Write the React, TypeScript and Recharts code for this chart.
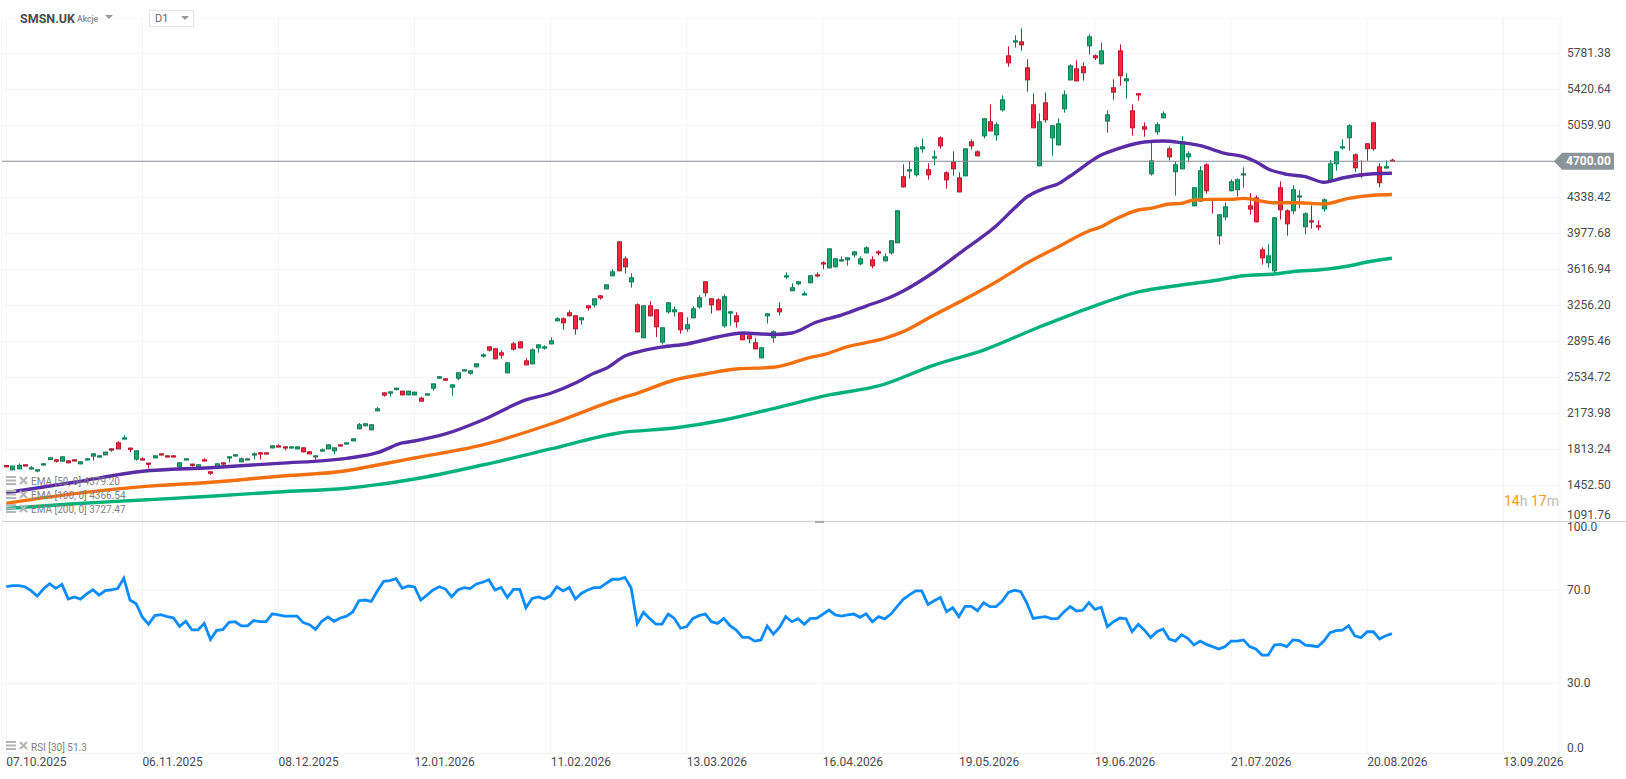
import React from "react";
import { ComposedChart, Bar, Line, XAxis, YAxis, CartesianGrid, ReferenceLine } from "recharts";

const FONT = "Roboto, sans-serif";

// open, high, low, close
const candles: number[][] = [
[1656,1656,1633,1633],[1603,1650,1603,1650],[1613,1673,1613,1656],[1663,1663,1643,1643],[1613,1646,1613,1633],
[1593,1613,1583,1613],[1653,1673,1653,1673],[1706,1733,1706,1733],[1713,1713,1680,1690],[1690,1743,1690,1743],
[1703,1703,1673,1673],[1713,1713,1693,1693],[1663,1693,1663,1693],[1703,1723,1703,1723],[1740,1773,1700,1773],
[1733,1753,1733,1753],[1753,1790,1753,1790],[1823,1823,1790,1800],[1883,1893,1813,1813],[1913,1954,1913,1933],
[1830,1830,1783,1813],[1710,1803,1700,1803],[1723,1733,1703,1703],[1680,1680,1620,1660],[1723,1753,1723,1753],
[1773,1773,1753,1753],[1753,1753,1733,1733],[1753,1753,1733,1733],[1633,1683,1623,1683],[1703,1723,1703,1723],
[1670,1670,1640,1650],[1633,1663,1633,1663],[1713,1723,1693,1693],[1593,1593,1556,1569],[1633,1673,1633,1673],
[1683,1683,1633,1660],[1723,1743,1683,1743],[1743,1763,1743,1763],[1683,1733,1683,1723],[1703,1723,1703,1723],
[1753,1783,1713,1773],[1783,1783,1713,1763],[1783,1783,1763,1763],[1823,1853,1823,1853],[1853,1863,1833,1833],
[1843,1843,1803,1823],[1823,1843,1823,1843],[1813,1843,1813,1843],[1833,1833,1783,1783],[1793,1793,1763,1763],
[1733,1753,1706,1753],[1793,1823,1793,1813],[1813,1863,1813,1863],[1793,1833,1763,1833],[1863,1863,1843,1843],
[1863,1883,1863,1883],[1893,1923,1893,1923],[2014,2077,2014,2064],[2044,2074,2044,2074],[2004,2064,2004,2064],
[2194,2237,2194,2224],[2384,2384,2341,2351],[2371,2394,2341,2394],[2411,2431,2401,2431],[2401,2401,2354,2354],
[2354,2401,2354,2401],[2354,2391,2354,2391],[2331,2341,2291,2291],[2354,2374,2354,2374],[2421,2474,2401,2474],
[2521,2545,2521,2545],[2525,2525,2501,2501],[2431,2464,2351,2464],[2521,2585,2508,2585],[2595,2615,2595,2615],
[2571,2605,2561,2605],[2635,2675,2635,2675],[2742,2775,2732,2765],[2845,2845,2792,2802],[2825,2825,2715,2715],
[2785,2805,2722,2752],[2575,2685,2575,2685],[2875,2889,2802,2812],[2895,2895,2825,2825],[2705,2725,2655,2655],
[2665,2825,2665,2815],[2825,2865,2782,2865],[2825,2855,2812,2845],[2865,2935,2865,2905],[3096,3136,3096,3126],
[3126,3136,3012,3076],[3186,3206,3146,3146],[3156,3156,2962,3016],[3106,3136,3062,3136],[3256,3256,3203,3226],
[3256,3326,3236,3326],[3356,3356,3313,3326],[3416,3466,3416,3466],[3547,3617,3547,3597],[3897,3897,3597,3597],
[3727,3747,3573,3637],[3486,3577,3433,3537],[3266,3276,2986,2986],[2926,3256,2926,3256],[3256,3296,3146,3146],
[3216,3216,2939,3036],[2882,3036,2862,3036],[3186,3286,3173,3286],[3186,3246,3143,3216],[3186,3186,2972,3006],
[3016,3136,2992,3066],[3126,3246,3126,3226],[3236,3357,3223,3337],[3497,3497,3343,3377],[3327,3327,3173,3256],
[3316,3327,3206,3206],[3046,3367,3033,3347],[3176,3196,3053,3196],[3156,3186,3033,3086],[2982,2982,2906,2906],
[2956,2956,2876,2916],[2886,2926,2815,2815],[2725,2836,2725,2836],[3146,3176,3073,3176],[2926,3006,2882,2996],
[3226,3286,3156,3186],[3537,3587,3517,3557],[3397,3477,3397,3437],[3467,3497,3457,3497],[3357,3397,3357,3377],
[3477,3557,3477,3557],[3567,3587,3537,3547],[3687,3697,3617,3667],[3627,3827,3627,3827],[3637,3727,3637,3727],
[3697,3747,3697,3717],[3707,3737,3654,3737],[3757,3797,3737,3797],[3667,3747,3657,3727],[3777,3847,3777,3837],
[3717,3747,3627,3647],[3797,3807,3757,3777],[3697,3777,3697,3747],[3777,3908,3764,3908],[3878,4208,3878,4208],
[4549,4669,4438,4438],[4599,4699,4525,4619],[4559,4849,4545,4839],[4819,4929,4786,4849],[4619,4679,4515,4559],
[4729,4809,4659,4749],[4939,4949,4826,4849],[4589,4599,4425,4508],[4699,4799,4555,4619],[4538,4589,4388,4388],
[4549,4829,4549,4829],[4899,4919,4816,4849],[4799,4809,4749,4749],[4949,5130,4929,5130],[5100,5270,4999,4999],
[4959,5090,4906,5070],[5210,5360,5197,5320],[5761,5851,5647,5681],[5891,5961,5838,5911],[5901,6031,5808,5861],
[5641,5721,5397,5510],[5270,5380,5030,5030],[4649,5180,4649,5100],[5290,5390,5086,5110],[4929,5060,4756,5060],
[4859,5130,4859,5080],[5220,5410,5186,5370],[5510,5671,5510,5661],[5631,5711,5500,5500],[5651,5691,5507,5581],
[5851,5971,5768,5951],[5761,5771,5714,5731],[5671,5891,5671,5811],[5097,5210,4986,5170],[5441,5521,5317,5387],
[5811,5871,5457,5551],[5501,5581,5327,5531],[5210,5270,4956,5030],[5381,5381,5307,5360],[5050,5090,4946,5016],
[4569,4910,4556,4709],[4990,5090,4966,5070],[5130,5200,5130,5180],[4829,4849,4709,4739],[4589,4699,4355,4669],
[4619,4950,4619,4900],[4739,4799,4689,4779],[4248,4439,4248,4439],[4295,4649,4295,4609],[4669,4679,4375,4399],
[4328,4328,4175,4318],[3948,4168,3864,4168],[4138,4288,4108,4248],[4399,4519,4399,4499],[4409,4529,4345,4519],
[4559,4639,4435,4579],[4258,4379,4165,4215],[4338,4358,4088,4088],[3817,3837,3664,3727],[3677,3867,3634,3757],
[3597,4138,3577,4138],[4439,4499,4115,4208],[4208,4218,3954,4068],[4198,4459,4168,4419],[4338,4409,4228,4358],
[4038,4188,3968,4178],[4108,4258,4024,4088],[4058,4108,4008,4038],[4218,4328,4194,4318],[4505,4712,4492,4679],
[4669,4799,4605,4799],[4829,4920,4816,4850],[4930,5070,4805,5060],[4769,4779,4595,4629],[4559,4709,4529,4579],
[4880,4880,4705,4820],[5090,5090,4805,4820],[4649,4679,4439,4479],[4629,4709,4629,4649],[4715,4725,4700,4700],
];

// [candle index, value]
const ema50: number[][] = [
[0,1379],[11,1483],[22,1593],[33,1629],[44,1673],[55,1723],[60,1779],[64,1877],[66,1897],[71,1967],[77,2107],[84,2308],
[88,2375],[92,2478],[95,2575],[97,2625],[100,2748],[102,2788],[106,2838],[110,2869],[115,2939],[119,2979],[124,2964],
[127,2979],[131,3089],[135,3159],[139,3249],[143,3340],[145,3400],[150,3590],[155,3820],[160,4051],[163,4231],[165,4342],
[168,4432],[170,4472],[172,4552],[177,4762],[180,4832],[184,4893],[187,4903],[190,4886],[193,4856],[197,4779],[200,4745],
[202,4695],[204,4622],[207,4569],[210,4545],[213,4489],[216,4532],[218,4555],[221,4575],[224,4579.2],
];
const ema100: number[][] = [
[0,1272],[11,1369],[22,1439],[33,1483],[44,1543],[55,1599],[60,1656],[64,1703],[66,1726],[77,1857],[88,2067],[99,2318],
[102,2375],[108,2508],[113,2568],[118,2618],[124,2635],[127,2678],[129,2718],[133,2778],[136,2842],[139,2882],[142,2926],
[145,2992],[150,3159],[155,3319],[160,3490],[165,3680],[170,3841],[175,4001],[177,4044],[179,4111],[181,4168],[183,4211],
[185,4228],[188,4271],[190,4278],[192,4311],[195,4318],[198,4318],[200,4328],[205,4284],[209,4284],[213,4271],[217,4328],
[221,4359],[224,4366.54],
];
const ema200: number[][] = [
[0,1220],[11,1268],[22,1305],[33,1343],[44,1386],[55,1423],[60,1459],[64,1496],[66,1516],[77,1656],[88,1817],[99,1977],
[108,2027],[116,2107],[125,2237],[133,2358],[141,2448],[150,2658],[158,2808],[167,3039],[175,3229],[183,3390],[190,3460],
[196,3510],[200,3553],[205,3570],[209,3600],[212,3610],[217,3650],[220,3690],[224,3727.47],
];

const rsi: number[] = [
71.4,71.9,71.9,71.4,69.7,67.4,70.4,72.7,70.7,72.4,66.1,67.0,66.1,68.3,70.1,67.8,69.7,70.1,70.6,75.0,
65.7,64.1,58.3,55.3,59.0,59.4,58.6,58.1,54.4,56.6,52.9,52.9,55.7,48.8,52.7,53.0,56.1,56.4,54.6,54.6,
56.9,56.4,56.4,59.8,59.3,58.8,58.8,58.8,56.0,55.1,53.1,56.6,58.4,56.6,58.0,58.8,60.6,65.4,65.7,65.1,
69.7,73.7,74.0,74.9,70.7,71.7,71.3,65.7,67.8,70.0,71.4,70.4,
67.1,70.0,71.0,70.6,72.6,73.3,74.4,70.0,71.1,66.8,70.3,70.3,62.4,66.4,67.0,66.1,67.6,71.4,69.6,71.1,
66.1,68.6,70.0,71.0,71.0,72.9,74.6,74.6,75.4,71.0,55.6,60.4,57.8,55.4,55.4,59.7,57.8,53.6,54.3,57.8,
59.0,59.7,56.4,55.7,57.8,54.7,52.8,49.7,49.7,48.1,48.6,54.6,51.1,54.0,58.6,56.4,57.7,55.3,57.8,57.8,
59.6,61.4,59.3,58.8,59.3,59.7,58.3,59.8,56.4,58.6,57.6,59.7,62.9,66.0,67.9,69.6,69.6,63.8,65.4,66.8,
60.7,62.4,58.6,63.0,63.0,61.1,64.6,62.9,62.9,65.3,69.0,69.9,69.3,64.3,57.8,58.3,58.6,57.6,57.8,60.7,
62.9,61.0,61.3,64.6,61.7,62.6,54.3,56.4,58.0,57.7,52.1,55.3,52.8,49.6,52.1,53.3,49.0,48.1,50.8,49.3,
46.4,48.1,46.7,45.7,44.7,45.7,48.1,48.1,48.6,45.7,44.7,42.1,42.1,46.4,46.7,45.7,48.6,48.3,46.4,46.1,
45.7,48.1,51.7,52.6,52.8,54.7,50.4,49.6,52.1,52.1,49.0,50.4,51.3,
];

const dateLabels = ["07.10.2025","06.11.2025","08.12.2025","12.01.2026","11.02.2026","13.03.2026","16.04.2026","19.05.2026","19.06.2026","21.07.2026","20.08.2026","13.09.2026"];
const dateTicks = [0,22,44,66,88,110,132,154,176,198,220,242];
const priceTicks = [1091.76,1452.50,1813.24,2173.98,2534.72,2895.46,3256.20,3616.94,3977.68,4338.42,5059.90,5420.64,5781.38];
const rsiTicks = [0,30,70,100];
const lastPrice = 4700;

const lookup = (list: number[][], i: number) => {
  const hit = list.find((p) => p[0] === i);
  return hit ? hit[1] : null;
};

const priceRows = candles.map((c, i) => ({
  i, open: c[0], high: c[1], low: c[2], close: c[3],
  ema50: lookup(ema50, i), ema100: lookup(ema100, i), ema200: lookup(ema200, i),
}));
const rsiRows = rsi.map((v, i) => ({ i, rsi: v }));

const Candle = (props: any) => {
  const { x, y, width, height, payload } = props;
  const { open, high, low, close } = payload;
  const k = height / (high - low);
  const at = (v: number) => y + (high - v) * k;
  const up = close >= open;
  const cx = Math.floor(x + width / 2) + 0.5;
  const top = at(Math.max(open, close));
  const bot = at(Math.min(open, close));
  const edge = up ? "#0e7d55" : "#b8172e";
  return (
    <g>
      <line x1={cx} x2={cx} y1={y} y2={y + height} stroke={edge} strokeWidth={1} />
      <rect x={cx - 2} width={4} y={top + 0.5} height={Math.max(bot - top - 1, 1.2)} fill={up ? "#1ca56d" : "#f8253f"} stroke={edge} strokeWidth={1} />
    </g>
  );
};

const labelStyle = { fontFamily: FONT, fontSize: 12, fill: "#474d50" };

const PriceTick = (props: any) => {
  const { y, payload } = props;
  const shift = payload.value === 1091.76 ? -6 : 0;
  return <text x={1567} y={y + shift} dominantBaseline="central" textAnchor="start" {...labelStyle}>{payload.value.toFixed(2)}</text>;
};
const RsiTick = (props: any) => {
  const { y, payload } = props;
  const shift = payload.value === 100 ? 7 : payload.value === 0 ? -5 : 0;
  return <text x={1567} y={y + shift} dominantBaseline="central" textAnchor="start" {...labelStyle}>{payload.value.toFixed(1)}</text>;
};
const DateTick = (props: any) => {
  const { x, index } = props;
  return <text x={x} y={241.7} dominantBaseline="central" textAnchor="start" {...labelStyle}>{dateLabels[index]}</text>;
};

const PriceTag = (props: any) => {
  const vb = props.viewBox;
  const right = vb.x + vb.width;
  const cy = vb.y;
  return (
    <g>
      <polygon points={`${right - 6},${cy} ${right + 2},${cy - 8.5} ${right + 54},${cy - 8.5} ${right + 54},${cy + 8.5} ${right + 2},${cy + 8.5}`} fill="#8b9599" />
      <text x={right + 6} y={cy} dominantBaseline="central" textAnchor="start" fontFamily={FONT} fontSize={12} fontWeight={700} fill="#fff">{lastPrice.toFixed(2)}</text>
    </g>
  );
};

const Icons = ({ top }: { top: number }) => (
  <svg width={26} height={12} style={{ position: "absolute", left: 5, top }}>
    <rect x={1} y={1} width={10} height={2} fill="#b5b5b5" />
    <rect x={1} y={4.5} width={10} height={2} fill="#b5b5b5" />
    <rect x={1} y={8} width={10} height={2} fill="#b5b5b5" />
    <path d="M15 2 L22 9 M22 2 L15 9" stroke="#b5b5b5" strokeWidth={2.2} />
  </svg>
);

const legendText = (top: number, text: string) => (
  <div style={{ position: "absolute", left: 31, top, fontFamily: FONT, fontSize: 10, lineHeight: "12px", color: "#808080", whiteSpace: "nowrap" }}>{text}</div>
);

const tri = (left: number, top: number) => (
  <svg width={10} height={6} style={{ position: "absolute", left, top }}>
    <polygon points="0,0 8,0 4,4" fill="#999" />
  </svg>
);

export default function App() {
  return (
    <div style={{ position: "absolute", left: 0, top: 0, width: 1626, height: 779, background: "#fff", overflow: "hidden" }}>
      <div style={{ position: "absolute", left: 0, top: 18 }}>
        <ComposedChart width={1626} height={504} data={priceRows} margin={{ top: 0, right: 0, bottom: 0.67, left: 2 }}>
          <CartesianGrid stroke="#f3f3f3" strokeWidth={1} />
          <XAxis dataKey="i" type="number" domain={[-0.695, 251.17]} ticks={dateTicks} hide allowDataOverflow />
          <YAxis type="number" orientation="right" width={66} domain={[1091.76, 6135.1]} ticks={priceTicks} interval={0} tick={PriceTick} tickLine={false} axisLine={false} tickMargin={0} allowDataOverflow />
          <ReferenceLine y={lastPrice} stroke="#7f8c92" strokeWidth={1.1} label={PriceTag} />
          <Bar dataKey={(d: any) => [d.low, d.high]} barSize={5} shape={Candle} isAnimationActive={false} />
          <Line dataKey="ema200" type="monotone" stroke="#00b27a" strokeWidth={3.4} dot={false} connectNulls isAnimationActive={false} />
          <Line dataKey="ema100" type="monotone" stroke="#f4700f" strokeWidth={3.4} dot={false} connectNulls isAnimationActive={false} />
          <Line dataKey="ema50" type="monotone" stroke="#5a2ca6" strokeWidth={3.4} dot={false} connectNulls isAnimationActive={false} />
        </ComposedChart>
      </div>
      <div style={{ position: "absolute", left: 0, top: 520 }}>
        <ComposedChart width={1626} height={259} data={rsiRows} margin={{ top: 0, right: 0, bottom: 0, left: 2 }}>
          <CartesianGrid stroke="#f3f3f3" strokeWidth={1} />
          <XAxis dataKey="i" type="number" domain={[-0.695, 251.17]} ticks={dateTicks} interval={0} tick={DateTick} tickLine={false} axisLine={false} height={25.7} tickMargin={0} allowDataOverflow />
          <YAxis type="number" orientation="right" width={66} domain={[0, 100]} ticks={rsiTicks} interval={0} tick={RsiTick} tickLine={false} axisLine={false} tickMargin={0} />
          <Line dataKey="rsi" type="linear" stroke="#0a8cff" strokeWidth={2.8} dot={false} isAnimationActive={false} />
        </ComposedChart>
      </div>

      <div style={{ position: "absolute", left: 2, top: 521, width: 1624, height: 1, background: "#d4d4d4" }} />
      <div style={{ position: "absolute", left: 815, top: 521, width: 9, height: 2, background: "#aaa" }} />

      <div style={{ position: "absolute", left: 20, top: 11, fontFamily: FONT, fontSize: 12.5, fontWeight: 700, lineHeight: "15px", color: "#444d52" }}>SMSN.UK</div>
      <div style={{ position: "absolute", left: 77, top: 13, fontFamily: FONT, fontSize: 8.5, fontWeight: 500, lineHeight: "12px", color: "#8a8a8a" }}>Akcje</div>
      {tri(105, 15)}
      <div style={{ position: "absolute", left: 149, top: 10, width: 43, height: 15, border: "1px solid #e6e6e6", background: "#fff" }} />
      <div style={{ position: "absolute", left: 155, top: 12, fontFamily: FONT, fontSize: 11, lineHeight: "13px", color: "#666" }}>D1</div>
      {tri(181, 16)}

      <Icons top={475} />
      {legendText(476, "EMA [50, 0] 4379.20")}
      <Icons top={489} />
      {legendText(490, "EMA [100, 0] 4366.54")}
      <Icons top={503} />
      {legendText(504, "EMA [200, 0] 3727.47")}
      <Icons top={740} />
      {legendText(742, "RSI [30] 51.3")}

      <div style={{ position: "absolute", left: 1504, top: 493, fontFamily: FONT, fontSize: 14, lineHeight: "16px", whiteSpace: "nowrap", color: "#bbb" }}>
        <span style={{ color: "#ff9a1f" }}>14</span>h <span style={{ color: "#ff9a1f" }}>17</span>m
      </div>
    </div>
  );
}
